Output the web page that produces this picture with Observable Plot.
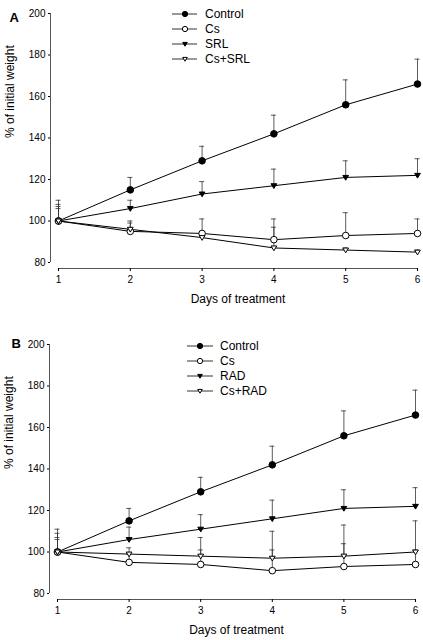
<!DOCTYPE html>
<html><head><meta charset="utf-8">
<script src="https://cdn.jsdelivr.net/npm/d3@7"></script>
<script src="https://cdn.jsdelivr.net/npm/@observablehq/plot@0.6"></script>
<style>
body{margin:0;background:#fff;}
#c{width:423px;}
#c svg{display:block;}
</style>
</head><body><div id="c"></div>
<script>
// ---------- data ----------
const days = [1, 2, 3, 4, 5, 6];
const yTicks = [80, 100, 120, 140, 160, 180, 200];
const xLabel = "Days of treatment";
const yLabel = "% of initial weight";

// Panel A
const namesA = ["Control", "Cs", "SRL", "Cs+SRL"];
const controlA = [100, 115, 129, 142, 156, 166];
const controlA_up = [110, 121, 136, 151, 168, 178];
const csA = [100, 95, 94, 91, 93, 94];
const csA_up = [107, 99, 101, 101, 104, 101];
const srlA = [100, 106, 113, 117, 121, 122];
const srlA_up = [108, 110, 119, 125, 129, 130];
const csSrlA = [100, 96, 92, 87, 86, 85];
const csSrlA_up = [106, 100, 95, 97, 87, 86];

// Panel B
const namesB = ["Control", "Cs", "RAD", "Cs+RAD"];
const controlB = [100, 115, 129, 142, 156, 166];
const controlB_up = [111, 121, 136, 151, 168, 178];
const csB = [100, 95, 94, 91, 93, 94];
const csB_up = [106, 99, 101, 101, 104, 101];
const radB = [100, 106, 111, 116, 121, 122];
const radB_up = [109, 112, 118, 125, 130, 131];
const csRadB = [100, 99, 98, 97, 98, 100];
const csRadB_up = [107, 102, 107, 110, 113, 115];

// ---------- styles ----------
const FONT = "'Liberation Sans', Arial, Helvetica, sans-serif";
const triDown = {
  draw(ctx, size) {
    const s = Math.sqrt(size / Math.PI);
    ctx.moveTo(-s * 1.15, -s * 0.8);
    ctx.lineTo(s * 1.15, -s * 0.8);
    ctx.lineTo(0, s * 1.1);
    ctx.closePath();
  }
};
const styles = [
  {fill: "black", symbol: d3.symbolCircle, r: 3.3},
  {fill: "white", symbol: d3.symbolCircle, r: 3.3},
  {fill: "black", symbol: triDown, r: 2.5},
  {fill: "white", symbol: triDown, r: 2.5}
];

function panel(letter, names, vals, ups, m) {
  const rows = [];
  names.forEach((n, i) => days.forEach((d, j) =>
    rows.push({series: n, idx: i, day: d, value: vals[i][j], upper: ups[i][j]})));

  const svg = Plot.plot({
    width: 423,
    height: 320,
    marginLeft: m.left,
    marginRight: m.right,
    marginTop: m.top,
    marginBottom: m.bottom,
    style: {fontFamily: FONT, fontSize: "10px", background: "white", color: "black", overflow: "visible"},
    x: {domain: [1, 6], insetLeft: 8},
    y: {domain: [80, 200], insetBottom: 6},
    marks: [
      Plot.ruleX([1], {y1: 80, y2: 200, dx: -8, stroke: "#555"}),
      Plot.ruleY([80], {x1: 1, x2: 6, dy: 6, stroke: "#555"}),
      Plot.axisY({ticks: yTicks, tickSize: 2, tickPadding: 3, fontSize: 10, label: null, tickFormat: "d"}),
      Plot.axisX({ticks: days, tickSize: 3, tickPadding: 4, fontSize: 10, label: null, tickFormat: "d"}),
      Plot.text([xLabel], {frameAnchor: "bottom", dy: 34, dx: 4, fontSize: 12, text: d => d}),
      Plot.text([yLabel], {frameAnchor: "left", dx: -40, dy: m.ylabDy, rotate: -90, fontSize: 12, text: d => d}),
      Plot.text([letter], {frameAnchor: "top-left", dx: m.letterDx, dy: m.letterDy, fontSize: 13, fontWeight: "bold", text: d => d}),
      Plot.ruleX(rows, {x: "day", y1: "value", y2: "upper", stroke: "#333", strokeWidth: 0.8}),
      Plot.ruleY(rows, {y: "upper", x1: "day", x2: "day", insetLeft: -2.5, insetRight: -2.5, stroke: "#333", strokeWidth: 0.8}),
      Plot.line(rows, {x: "day", y: "value", z: "series", stroke: "black", strokeWidth: 1}),
      ...styles.map((s, i) => Plot.dot(rows.filter(d => d.idx === i), {
        x: "day", y: "value", r: s.r, symbol: s.symbol, fill: s.fill, stroke: "black", strokeWidth: 1
      }))
    ]
  });

  // legend
  const g = d3.select(svg).append("g")
    .attr("font-family", FONT).attr("font-size", 12).attr("text-anchor", "start");
  names.forEach((n, i) => {
    const y = m.legY + i * 15;
    g.append("line").attr("x1", m.legX0).attr("x2", m.legX1).attr("y1", y).attr("y2", y)
      .attr("stroke", "#333").attr("stroke-width", 1);
    const s = styles[i];
    const rr = s.r * 0.8;
    g.append("path").attr("transform", `translate(${m.legM},${y})`)
      .attr("d", d3.symbol().type(s.symbol).size(rr * rr * Math.PI)())
      .attr("fill", s.fill).attr("stroke", "black").attr("stroke-width", 1);
    g.append("text").attr("x", m.legT).attr("y", y).attr("dy", "0.35em")
      .attr("text-anchor", "start").attr("fill", "black").text(n);
  });
  return svg;
}

const c = document.getElementById("c");
c.appendChild(panel("A", namesA,
  [controlA, csA, srlA, csSrlA], [controlA_up, csA_up, srlA_up, csSrlA_up],
  {left: 50, right: 6, top: 13, bottom: 52, ylabDy: -3, letterDx: -41, letterDy: -1,
   legY: 14, legX0: 172, legX1: 197, legM: 185, legT: 205}));
c.appendChild(panel("B", namesB,
  [controlB, csB, radB, csRadB], [controlB_up, csB_up, radB_up, csRadB_up],
  {left: 49, right: 8, top: 24, bottom: 41, ylabDy: -3, letterDx: -38, letterDy: -6,
   legY: 26, legX0: 187, legX1: 213, legM: 200, legT: 220}));
</script>
</body></html>
